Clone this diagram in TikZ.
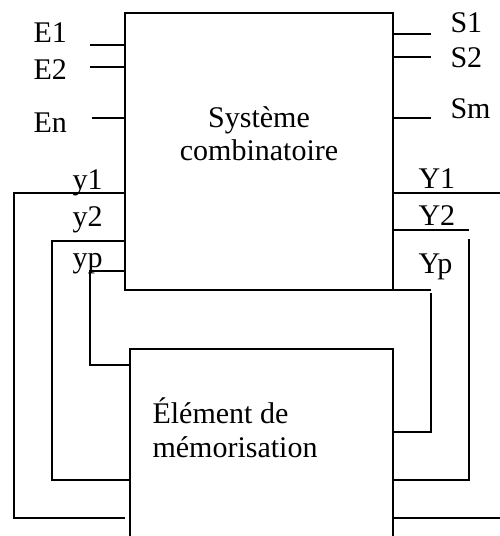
\documentclass[tikz,border=0pt]{standalone}
\usepackage{fontspec}
\setmainfont{Liberation Serif}
\begin{document}
\begin{tikzpicture}[x=1pt,y=-1pt,line width=1.1pt,
  lbl/.style={font=\fontsize{30}{34}\selectfont, inner sep=0pt, anchor=base west},
  ctr/.style={font=\fontsize{30}{34}\selectfont, inner sep=0pt, anchor=base},
  boxstyle/.style={draw, rectangle, inner sep=0pt, outer sep=0pt, line width=1.1pt}]
\useasboundingbox (0,0) rectangle (500,536);
% blocks
\node[boxstyle, minimum width=268pt, minimum height=277pt, anchor=north west] (sc) at (125,13) {};
\node[boxstyle, minimum width=263pt, minimum height=210pt, anchor=north west] (me) at (130,349) {};
% block texts
\node[ctr] (t1) at (259,127) {Système};
\node[ctr] (t2) at (259,160) {combinatoire};
\node[lbl] (t3) at (152,423) {Élément de};
\node[lbl] (t4) at (152,457) {mémorisation};
% input labels
\node[lbl] (le1) at (33,42) {E1};
\node[lbl] (le2) at (33,79) {E2};
\node[lbl] (len) at (33,132) {En};
\node[lbl] (ly1) at (72,189) {y1};
\node[lbl] (ly2) at (72,226) {y2};
\node[lbl] (lyp) at (72,267) {yp};
% output labels
\node[lbl] (ls1) at (450,32) {S1};
\node[lbl] (ls2) at (450,67) {S2};
\node[lbl] (lsm) at (450,118) {Sm};
\node[lbl] (lY1) at (418,188) {Y1};
\node[lbl] (lY2) at (418,225) {Y2};
\node[lbl] (lYp) at (418,273) {Yp};
% free ends
\coordinate (e1) at (90,45);
\coordinate (e2) at (90,67);
\coordinate (en) at (92,118);
\coordinate (s1) at (431,34);
\coordinate (s2) at (431,57);
\coordinate (sm) at (431,118);
% inputs / outputs
\draw (e1) -- (e1 -| sc.west);
\draw (e2) -- (e2 -| sc.west);
\draw (en) -- (en -| sc.west);
\draw (s1) -- (s1 -| sc.east);
\draw (s2) -- (s2 -| sc.east);
\draw (sm) -- (sm -| sc.east);
% feedback loops, left side (memory outputs -> y inputs)
\draw (sc.west |- 0,193) -- (14,193) -- (14,518) -- (125,518);
\draw (sc.west |- 0,241) -- (52,241) -- (52,480) -- (me.west |- 0,480);
\draw (sc.west |- 0,271) -- (90,271) -- (90,365) -- (me.west |- 0,365);
% right side (Y outputs -> memory inputs)
\draw (sc.east |- 0,193) -- (500,193);
\draw (me.east |- 0,518) -- (500,518);
\draw (sc.east |- 0,230) -- (469,230);
\draw (469,239) -- (469,480) -- (me.east |- 0,480);
\draw (sc.south east) -- (431,290);
\draw (431,293) -- (431,432) -- (me.east |- 0,432);
\end{tikzpicture}
\end{document}
